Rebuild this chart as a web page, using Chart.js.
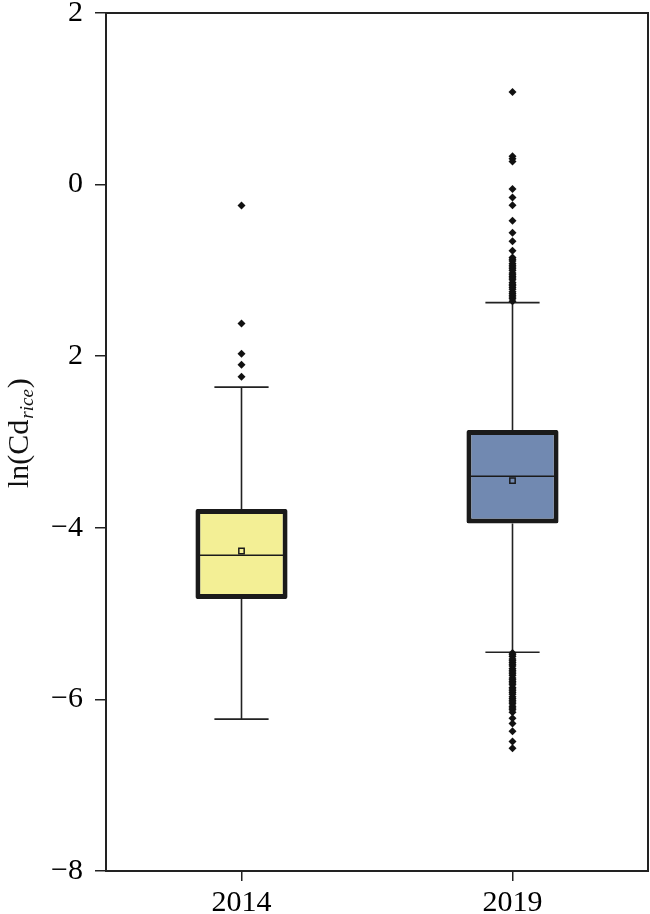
<!DOCTYPE html>
<html>
<head>
<meta charset="utf-8">
<script src="https://cdn.jsdelivr.net/npm/chart.js@4"></script>
<style>
  html, body { margin: 0; padding: 0; background: #fff; }
  #wrap { width: 650px; height: 914px; }
</style>
</head>
<body>
<div id="wrap"><canvas id="c" width="650" height="914"></canvas></div>
<script>
// ---- Data ----
const categories = ['2014', '2019'];
const q1 = [-4.83, -3.95];
const q3 = [-3.78, -2.86];
const medians = [-4.32, -3.40];
const means = [-4.27, -3.45];
const whiskerLow = [-6.23, -5.45];
const whiskerHigh = [-2.36, -1.375];
const outliers2014 = [-0.245, -1.62, -1.97, -2.10, -2.24];
const outliers2019 = [
  1.08, 0.33, 0.30, 0.27, -0.05, -0.15, -0.24, -0.42, -0.56, -0.66, -0.77,
  -0.85, -0.87, -0.89, -0.92, -0.94, -0.96, -0.98, -1.00, -1.03, -1.05, -1.07, -1.09,
  -1.11, -1.14, -1.16, -1.18, -1.20, -1.22, -1.25, -1.27, -1.29, -1.31, -1.33, -1.36,
  -5.46, -5.48, -5.50, -5.53, -5.55, -5.57, -5.59, -5.61, -5.64, -5.66, -5.68, -5.70,
  -5.72, -5.75, -5.77, -5.79, -5.81, -5.83, -5.86, -5.88, -5.90, -5.92, -5.94, -5.97,
  -5.99, -6.01, -6.03, -6.05, -6.08, -6.10, -6.12, -6.15,
  -6.22, -6.28, -6.37, -6.49, -6.57
];
const yTickValues = [2, 0, -2, -4, -6, -8];
const yTickLabels = ['2', '0', '2', '\u22124', '\u22126', '\u22128'];
const boxColors = ['#F3EF95', '#7189B1'];

const FONT = '"Liberation Serif", "Times New Roman", Times, serif';
const INK = '#1a1a1a';

const boxPlugin = {
  id: 'boxParts',
  beforeDatasetsDraw(chart) {
    const ctx = chart.ctx;
    const xs = chart.scales.x, ys = chart.scales.y;
    const catW = xs.width / categories.length;
    ctx.save();
    ctx.strokeStyle = '#222';
    ctx.lineWidth = 1.6;
    categories.forEach((c, i) => {
      const x = xs.getPixelForValue(i);
      const capHalf = catW * 0.1;
      const yHi = ys.getPixelForValue(whiskerHigh[i]);
      const yLo = ys.getPixelForValue(whiskerLow[i]);
      const yQ3 = ys.getPixelForValue(q3[i]);
      const yQ1 = ys.getPixelForValue(q1[i]);
      ctx.beginPath();
      ctx.moveTo(x, yQ3); ctx.lineTo(x, yHi);
      ctx.moveTo(x, yQ1); ctx.lineTo(x, yLo);
      ctx.moveTo(x - capHalf, yHi); ctx.lineTo(x + capHalf, yHi);
      ctx.moveTo(x - capHalf, yLo); ctx.lineTo(x + capHalf, yLo);
      ctx.stroke();
    });
    ctx.restore();
  },
  afterDatasetDraw(chart, args) {
    if (args.index !== 0) return;
    const ctx = chart.ctx;
    const ys = chart.scales.y;
    const meta = chart.getDatasetMeta(0);
    ctx.save();
    ctx.strokeStyle = INK;
    ctx.lineWidth = 1.6;
    meta.data.forEach((bar, i) => {
      const y = ys.getPixelForValue(medians[i]);
      ctx.beginPath();
      ctx.moveTo(bar.x - bar.width / 2 + 3, y);
      ctx.lineTo(bar.x + bar.width / 2 - 3, y);
      ctx.stroke();
    });
    ctx.restore();
  },
  afterDraw(chart) {
    const ctx = chart.ctx;
    const a = chart.chartArea;
    ctx.save();
    ctx.strokeStyle = '#222';
    ctx.lineWidth = 2;
    ctx.strokeRect(a.left, a.top, a.right - a.left, a.bottom - a.top);
    // y-axis title: ln(Cd_rice)
    ctx.translate(28, 488);
    ctx.rotate(-Math.PI / 2);
    ctx.fillStyle = '#111';
    ctx.textBaseline = 'alphabetic';
    ctx.textAlign = 'left';
    ctx.font = '30px ' + FONT;
    const t1 = 'ln(Cd';
    ctx.fillText(t1, 0, 0);
    let w = ctx.measureText(t1).width;
    ctx.font = 'italic 19px ' + FONT;
    const t2 = 'rice';
    ctx.fillText(t2, w + 1, 5);
    w += ctx.measureText(t2).width + 2;
    ctx.font = '30px ' + FONT;
    ctx.fillText(')', w, 0);
    ctx.restore();
  }
};

new Chart(document.getElementById('c'), {
  type: 'bar',
  data: {
    labels: categories,
    datasets: [
      {
        type: 'bar',
        data: categories.map((c, i) => [q1[i], q3[i]]),
        backgroundColor: boxColors,
        borderColor: INK,
        borderWidth: 5,
        borderSkipped: false,
        borderRadius: 2,
        barPercentage: 0.34,
        categoryPercentage: 1,
        order: 3
      },
      {
        type: 'scatter',
        data: outliers2014.map(v => ({ x: categories[0], y: v }))
          .concat(outliers2019.map(v => ({ x: categories[1], y: v }))),
        pointStyle: 'rectRot',
        pointRadius: 4,
        pointHoverRadius: 4,
        backgroundColor: '#111',
        borderWidth: 0,
        order: 2
      },
      {
        type: 'scatter',
        data: categories.map((c, i) => ({ x: c, y: means[i] })),
        pointStyle: 'rect',
        pointRadius: 3.8,
        pointHoverRadius: 3.8,
        backgroundColor: boxColors,
        borderColor: INK,
        borderWidth: 1.5,
        order: 1
      }
    ]
  },
  options: {
    responsive: false,
    animation: false,
    events: [],
    layout: { autoPadding: false, padding: { top: 13, right: 2, left: 0, bottom: 0 } },
    plugins: { legend: { display: false }, tooltip: { enabled: false }, title: { display: false } },
    scales: {
      x: {
        type: 'category',
        offset: true,
        grid: { display: true, offset: false, drawOnChartArea: false, drawTicks: true, tickLength: 10, color: '#222', lineWidth: 1.5 },
        border: { display: true, color: '#222', width: 2 },
        ticks: { color: '#000', font: { family: FONT, size: 30 }, padding: 4, maxRotation: 0 },
        afterFit(s) { s.height = 43; s.paddingLeft = 0; s.paddingRight = 0; }
      },
      y: {
        min: -8,
        max: 2,
        afterBuildTicks(s) { s.ticks = yTickValues.map(v => ({ value: v })); },
        grid: { display: true, drawOnChartArea: false, drawTicks: true, tickLength: 11, color: '#222', lineWidth: 1.5 },
        border: { display: true, color: '#222', width: 2 },
        ticks: {
          color: '#000',
          font: { family: FONT, size: 30 },
          padding: 12,
          callback(value) {
            const i = yTickValues.indexOf(value);
            return i >= 0 ? yTickLabels[i] : '';
          }
        },
        afterFit(s) { s.width = 106; s.paddingTop = 0; s.paddingBottom = 0; }
      }
    }
  },
  plugins: [boxPlugin]
});
</script>
</body>
</html>
